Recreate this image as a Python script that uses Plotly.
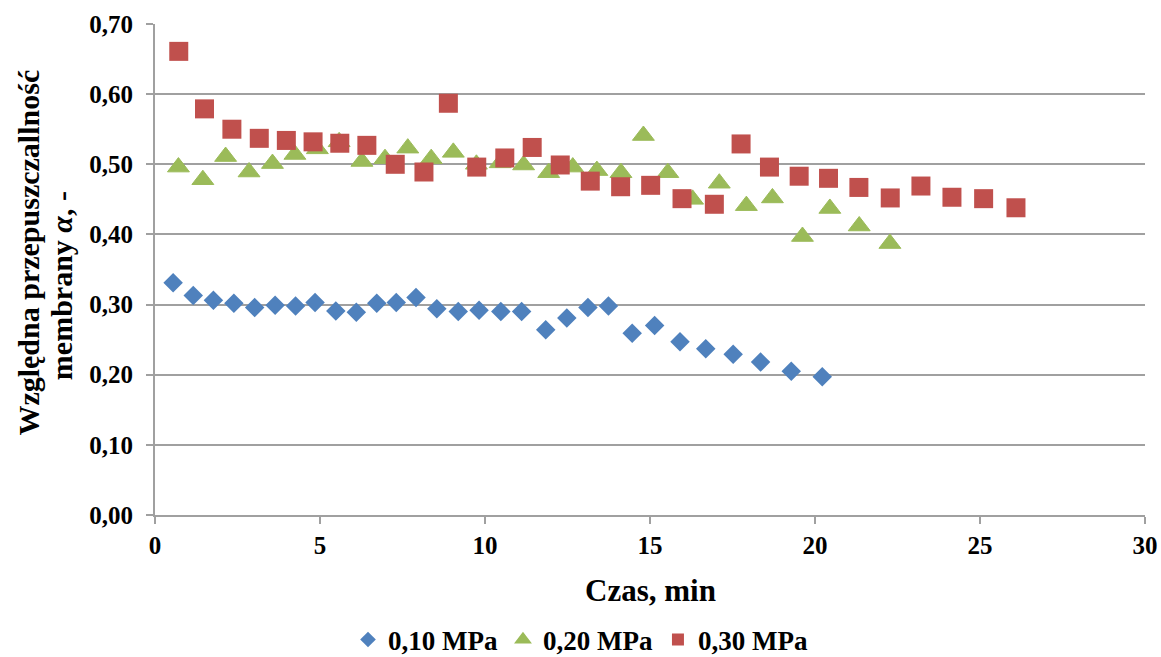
import plotly.graph_objects as go

# Czas [min] i względna przepuszczalność membrany dla trzech ciśnień
t_010 = [0.55, 1.16, 1.77, 2.39, 3.02, 3.64, 4.26, 4.85, 5.48, 6.10,
         6.72, 7.31, 7.91, 8.54, 9.19, 9.82, 10.48, 11.11, 11.84, 12.48,
         13.12, 13.74, 14.46, 15.14, 15.91, 16.69, 17.52, 18.35, 19.28, 20.22]
a_010 = [0.331, 0.313, 0.306, 0.302, 0.296, 0.299, 0.298, 0.303, 0.291, 0.289,
         0.302, 0.303, 0.310, 0.294, 0.290, 0.292, 0.290, 0.290, 0.264, 0.281,
         0.296, 0.298, 0.259, 0.270, 0.247, 0.237, 0.229, 0.218, 0.205, 0.197]

t_020 = [0.71, 1.45, 2.14, 2.85, 3.56, 4.24, 4.92, 5.58, 6.27, 6.97,
         7.66, 8.37, 9.04, 9.74, 10.46, 11.17, 11.93, 12.66, 13.39, 14.12,
         14.80, 15.54, 16.29, 17.10, 17.92, 18.71, 19.62, 20.45, 21.34, 22.27]
a_020 = [0.496, 0.478, 0.511, 0.489, 0.501, 0.514, 0.522, 0.532, 0.504, 0.508,
         0.523, 0.508, 0.517, 0.500, 0.502, 0.499, 0.488, 0.496, 0.491, 0.488,
         0.541, 0.488, 0.450, 0.473, 0.441, 0.452, 0.397, 0.437, 0.412, 0.387]

t_030 = [0.72, 1.50, 2.33, 3.16, 3.98, 4.79, 5.60, 6.42, 7.28, 8.15,
         8.89, 9.75, 10.60, 11.43, 12.28, 13.19, 14.11, 15.02, 15.97, 16.95,
         17.76, 18.62, 19.52, 20.41, 21.33, 22.28, 23.21, 24.15, 25.11, 26.09]
a_030 = [0.661, 0.579, 0.550, 0.537, 0.534, 0.532, 0.530, 0.527, 0.500, 0.489,
         0.587, 0.496, 0.509, 0.524, 0.499, 0.476, 0.468, 0.470, 0.451, 0.443,
         0.529, 0.496, 0.483, 0.480, 0.467, 0.452, 0.469, 0.453, 0.451, 0.438]

series_names = ["0,10 MPa", "0,20 MPa", "0,30 MPa"]

FONT = "Liberation Serif, Times New Roman, serif"
GRID = "#a0a0a0"

fig = go.Figure()
fig.add_trace(go.Scatter(x=t_010, y=a_010, mode="markers", name=series_names[0],
                         marker=dict(symbol="diamond", size=15, color="#4F81BD",
                                     line=dict(width=0))))
fig.add_trace(go.Scatter(x=t_020, y=a_020, mode="markers", name=series_names[1],
                         marker=dict(symbol="triangle-up", size=19, color="#9BBB59",
                                     line=dict(width=1, color="#9BBB59"))))
fig.add_trace(go.Scatter(x=t_030, y=a_030, mode="markers", name=series_names[2],
                         marker=dict(symbol="square", size=19, color="#C0504D",
                                     line=dict(width=0))))

fig.update_layout(
    width=1161, height=657,
    margin=dict(l=155, r=16, t=24, b=142, autoexpand=False),
    paper_bgcolor="white", plot_bgcolor="white",
    separators=", ",
    font=dict(family=FONT, color="black"),
    showlegend=True,
    legend=dict(orientation="h", xref="container", yref="container",
                x=0.5, xanchor="center", y=0.026, yanchor="middle",
                font=dict(family=FONT, size=27, weight="bold"),
                itemsizing="constant", traceorder="normal", itemwidth=30,
                tracegroupgap=0),
)

fig.update_xaxes(
    range=[0, 30], tickvals=[0, 5, 10, 15, 20, 25, 30],
    automargin=False,
    showgrid=False, zeroline=False,
    showline=True, linecolor=GRID, linewidth=2,
    ticks="outside", ticklen=7, tickcolor=GRID, tickwidth=2,
    tickfont=dict(family=FONT, size=25, weight="bold"),
)
fig.update_yaxes(
    range=[0, 0.70], tickvals=[0, 0.1, 0.2, 0.3, 0.4, 0.5, 0.6, 0.7],
    tickformat=".2f",
    automargin=False,
    showgrid=True, gridcolor=GRID, gridwidth=2,
    zeroline=False,
    showline=True, linecolor=GRID, linewidth=2,
    ticks="outside", ticklen=7, tickcolor=GRID, tickwidth=2,
    ticklabelstandoff=8,
    tickfont=dict(family=FONT, size=25, weight="bold"),
)

# Axis titles
fig.add_annotation(text="<b>Czas, min</b>", xref="paper", yref="paper",
                   x=0.5, y=-0.153, xanchor="center", yanchor="middle",
                   showarrow=False, font=dict(family=FONT, size=31))
fig.add_annotation(text="<b>Względna przepuszczallność</b>", xref="paper", yref="paper",
                   x=-0.128, y=0.535, xanchor="center", yanchor="middle",
                   textangle=-90, showarrow=False, font=dict(family=FONT, size=30))
fig.add_annotation(text="<b>membrany <i>α</i>, -</b>", xref="paper", yref="paper",
                   x=-0.095, y=0.468, xanchor="center", yanchor="middle",
                   textangle=-90, showarrow=False, font=dict(family=FONT, size=30))

fig.write_html("out.html")
